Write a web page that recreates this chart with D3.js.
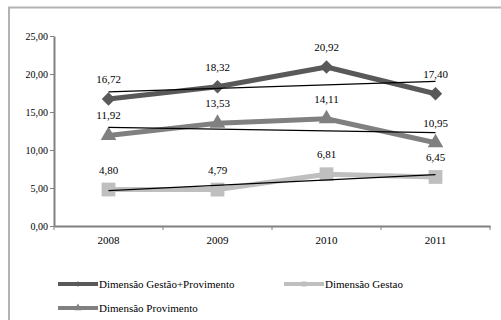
<!DOCTYPE html>
<html>
<head>
<meta charset="utf-8">
<script src="https://cdn.jsdelivr.net/npm/d3@7"></script>
<style>
  html, body { margin: 0; padding: 0; background: #fff; }
  svg { display: block; }
  text { font-family: "Liberation Serif", "Times New Roman", serif; fill: #000; }
</style>
</head>
<body>
<svg id="chart" width="501" height="320"></svg>
<script>
// Anos e séries
const years = ["2008", "2009", "2010", "2011"];
const gestaoProvimento = [16.72, 18.32, 20.92, 17.40];
const gestao = [4.80, 4.79, 6.81, 6.45];
const provimento = [11.92, 13.53, 14.11, 10.95];
const yTicks = [0, 5, 10, 15, 20, 25];

const seriesNames = ["Dimensão Gestão+Provimento", "Dimensão Gestao", "Dimensão Provimento"];
const seriesColors = ["#595959", "#bfbfbf", "#808080"];

// Losango com diagonais iguais (quadrado girado 45°)
const symbolRhombus = {
  draw(ctx, size) {
    const r = Math.sqrt(size / 2);
    ctx.moveTo(0, -r); ctx.lineTo(r, 0); ctx.lineTo(0, r); ctx.lineTo(-r, 0); ctx.closePath();
  }
};
const seriesSymbols = [symbolRhombus, d3.symbolSquare, d3.symbolTriangle];

const series = [
  { name: seriesNames[0], values: gestaoProvimento, color: seriesColors[0], symbol: seriesSymbols[0], size: 90, lsize: 14 },
  { name: seriesNames[1], values: gestao, color: seriesColors[1], symbol: seriesSymbols[1], size: 190, lsize: 25 },
  { name: seriesNames[2], values: provimento, color: seriesColors[2], symbol: seriesSymbols[2], size: 105, lsize: 25 }
];

const fmt = v => v.toFixed(2).replace(".", ",");

const svg = d3.select("#chart");

// Moldura do gráfico
svg.append("path")
  .attr("d", "M9,320 V7.5 H501")
  .attr("fill", "none")
  .attr("stroke", "#b3b3b3")
  .attr("stroke-width", 2);

const plot = { left: 54, right: 490, top: 36, bottom: 226 };

const x = d3.scaleBand().domain(years).range([plot.left, plot.right]);
const y = d3.scaleLinear().domain([0, 25]).range([plot.bottom, plot.top]);
const cx = d => x(d) + x.bandwidth() / 2;

// Eixo Y
const yAxis = svg.append("g")
  .attr("transform", `translate(${plot.left},0)`)
  .call(d3.axisLeft(y).tickValues(yTicks).tickSize(4).tickSizeOuter(0).tickFormat(fmt));
yAxis.select(".domain").attr("stroke", "#808080").attr("stroke-width", 2);
yAxis.selectAll(".tick line").attr("stroke", "#808080").attr("stroke-width", 1);
yAxis.selectAll(".tick text")
  .attr("x", -6)
  .style("font-family", '"Liberation Serif", serif')
  .style("font-size", "10px")
  .attr("fill", "#000");

// Eixo X
const xAxis = svg.append("g")
  .attr("transform", `translate(0,${plot.bottom})`)
  .call(d3.axisBottom(x).tickSize(0).tickSizeOuter(0));
xAxis.select(".domain").attr("stroke", "#808080").attr("stroke-width", 2);
xAxis.selectAll(".tick text")
  .attr("y", 10)
  .style("font-family", '"Liberation Serif", serif')
  .style("font-size", "11px")
  .attr("fill", "#000");

// Marcas de divisão entre categorias
const bounds = years.map(d => x(d)).concat([x(years[years.length - 1]) + x.bandwidth()]);
svg.append("g").selectAll("line")
  .data(bounds)
  .join("line")
  .attr("x1", d => d).attr("x2", d => d)
  .attr("y1", plot.bottom).attr("y2", plot.bottom + 4)
  .attr("stroke", "#808080")
  .attr("stroke-width", 1);

const line = d3.line().x((v, i) => cx(years[i])).y(v => y(v));

// Linhas de tendência (regressão linear)
function trend(values) {
  const n = values.length;
  const mx = (n - 1) / 2;
  const my = d3.mean(values);
  let sxy = 0, sxx = 0;
  values.forEach((v, i) => { sxy += (i - mx) * (v - my); sxx += (i - mx) * (i - mx); });
  const b = sxy / sxx;
  const a = my - b * mx;
  return [a, a + b * (n - 1)];
}

series.forEach(s => {
  const g = svg.append("g");
  g.append("path")
    .datum(s.values)
    .attr("d", line)
    .attr("fill", "none")
    .attr("stroke", s.color)
    .attr("stroke-width", 5)
    .attr("stroke-linejoin", "round");
  g.selectAll("path.mk")
    .data(s.values)
    .join("path")
    .attr("class", "mk")
    .attr("d", d3.symbol().type(s.symbol).size(s.size))
    .attr("transform", (v, i) => `translate(${cx(years[i])},${y(v)})`)
    .attr("fill", s.color);
});

series.forEach(s => {
  const [t0, t1] = trend(s.values);
  svg.append("line")
    .attr("x1", cx(years[0])).attr("x2", cx(years[years.length - 1]))
    .attr("y1", y(t0)).attr("y2", y(t1))
    .attr("stroke", "#000")
    .attr("stroke-width", 1.3);
});

// Rótulos de valores
series.forEach(s => {
  svg.append("g").selectAll("text")
    .data(s.values)
    .join("text")
    .attr("x", (v, i) => cx(years[i]))
    .attr("y", v => y(v) - 16)
    .attr("text-anchor", "middle")
    .style("font-size", "11px")
    .text(fmt);
});

// Legenda
const legendItems = [
  { s: series[0], x: 58, y: 284 },
  { s: series[1], x: 284, y: 284 },
  { s: series[2], x: 58, y: 308 }
];
const lg = svg.append("g").selectAll("g")
  .data(legendItems)
  .join("g")
  .attr("transform", d => `translate(${d.x},${d.y})`);
lg.append("line")
  .attr("x1", 0).attr("x2", 40)
  .attr("stroke", d => d.s.color)
  .attr("stroke-width", 4);
lg.append("path")
  .attr("d", d => d3.symbol().type(d.s.symbol).size(d.s.lsize)())
  .attr("transform", "translate(20,0)")
  .attr("fill", d => d.s.color);
lg.append("text")
  .attr("x", 41)
  .attr("y", 4)
  .style("font-size", "11px")
  .text(d => d.s.name);
</script>
</body>
</html>
